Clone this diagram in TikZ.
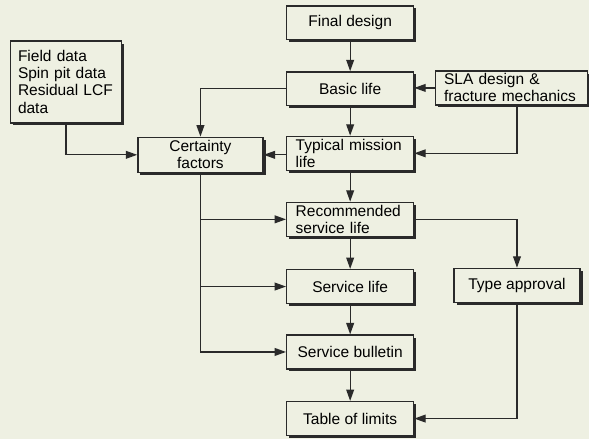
\documentclass[tikz,border=0pt]{standalone}
\usepackage{fontspec}
\setmainfont{Liberation Sans}
\usetikzlibrary{arrows.meta,shadows}

\definecolor{paper}{RGB}{238,240,226}
\definecolor{ink}{RGB}{42,42,42}

\begin{document}
\begin{tikzpicture}[
  font=\fontsize{14.7}{16.2}\selectfont,
  box/.style={draw=ink, line width=1.25pt, fill=paper, minimum height=1.13cm,
    inner xsep=0.3cm, inner ysep=0.05cm,
    drop shadow={shadow xshift=0.085cm, shadow yshift=-0.085cm, fill=ink, opacity=1}},
  mainbox/.style={box, minimum width=4.23cm},
  leftbox/.style={box, align=left, text width=#1},
  arr/.style={draw=ink, line width=1.25pt, -{Triangle[length=0.38cm, width=0.26cm]}},
]

% The sheet
\fill[paper] (0, 0) rectangle (19.63, 14.63);
\useasboundingbox (0, 0) rectangle (19.63, 14.63);

% The main column, from design to limits
\node[mainbox] (final) at (11.67, 13.87) {Final design};
\node[mainbox] (basic) at (11.67, 11.67) {Basic life};
\node[leftbox=3.63cm] (typical) at (11.67, 9.52) {Typical mission\\life};
\node[leftbox=3.63cm] (recommended) at (11.67, 7.32) {Recommended\\service life};
\node[mainbox] (servlife) at (11.67, 5.08) {Service life};
\node[mainbox] (bulletin) at (11.67, 2.90) {Service bulletin};
\node[mainbox] (limits) at (11.67, 0.68) {Table of limits};

% Inputs on the left
\node[box, align=left, text width=3.2cm, minimum height=2.73cm, inner xsep=0.25cm] (field) at (2.2, 11.9) {Field data\\Spin pit data\\Residual LCF\\data};
\node[box, align=center, minimum width=4.17cm, minimum height=1.17cm] (certainty) at (6.68, 9.47) {Certainty\\factors};

% Boxes on the right
\node[leftbox=4.5cm, inner xsep=0.28cm] (sla) at (17.05, 11.70) {SLA design \&\\fracture mechanics};
\node[box, minimum width=4.2cm] (approval) at (17.23, 5.12) {Type approval};

% Down the main column
\draw[arr] (final) -- (basic);
\draw[arr] (basic) -- (typical);
\draw[arr] (typical) -- (recommended);
\draw[arr] (recommended) -- (servlife);
\draw[arr] (servlife) -- (bulletin);
\draw[arr] (bulletin) -- (limits);

% SLA design into the lives
\draw[arr] (sla.west) -- (sla.west -| basic.east);
\draw[arr] (sla.south -| approval.north) |- (typical.east);

% Into the certainty factors
\draw[arr] (basic.west) -| (certainty.north);
\draw[arr] (typical.west |- certainty.east) -- (certainty.east);
\draw[arr] (field.south) |- (certainty.west);

% Out of the certainty factors
\draw[arr] (certainty.south) |- (recommended.west);
\draw[arr] (certainty.south) |- (servlife.west);
\draw[arr] (certainty.south) |- (bulletin.west);

% Type approval
\draw[arr] (recommended.east) -| (approval.north);
\draw[arr] (approval.south) |- (limits.east);

\end{tikzpicture}
\end{document}
